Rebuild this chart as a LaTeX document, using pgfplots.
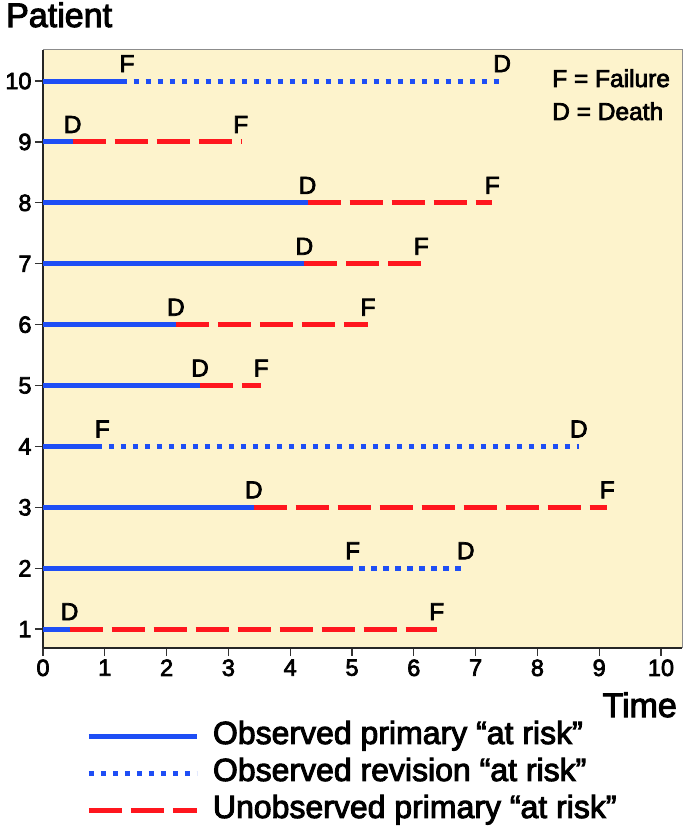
\documentclass[border=0pt]{standalone}
\usepackage{fontspec}
\setmainfont{Liberation Sans}[FakeBold=3]
\usepackage{pgfplots}
\pgfplotsset{compat=1.18}
\definecolor{bgy}{RGB}{253,243,204}
\definecolor{pblue}{RGB}{30,78,245}
\definecolor{pred}{RGB}{255,22,30}
\pgfplotsset{
  solidP/.style={pblue, line width=5bp},
  dotP/.style={pblue, line width=5bp, dash pattern=on 5.5bp off 6.5bp, dash phase=5.5bp},
  dotL/.style={pblue, line width=5bp, dash pattern=on 5.5bp off 6.5bp},
  dashP/.style={pred, line width=5bp, dash pattern=on 33bp off 9bp},
}
\begin{document}
\begin{tikzpicture}
\begin{axis}[
  scale only axis, width=639bp, height=598bp,
  xmin=0, xmax=10.34, ymin=0.69, ymax=10.51,
  axis lines=left,
  axis line style={black!85, line width=1.8bp, -},
  axis background/.style={fill=bgy},
  xtick={0,...,10}, ytick={1,...,10},
  tick align=outside, major tick length=8bp,
  tick style={black!80, line width=1.3bp},
  /pgf/number format/assume math mode=true,
  tick label style={font=\fontsize{23.5bp}{28bp}\selectfont},
  clip=false,
  legend image code/.code={\draw[#1] (0bp,0bp) -- (108bp,0bp); \path[draw=none] (0bp,0bp) -- (124bp,0bp);},
  legend cell align=left,
  legend style={at={(0.068,-0.1237)}, anchor=north west, draw=none, fill=none,
    inner sep=0pt, outer sep=0pt, row sep=8bp,
    font=\fontsize{32bp}{36bp}\selectfont,
    nodes={inner sep=0pt, text height=22bp, text depth=7bp}},
]
% Patient 10
\addplot[solidP, forget plot] coordinates {(0,10) (1.36,10)};
\addplot[dotP, forget plot] coordinates {(1.36,10) (7.43,10)};
% Patient 9
\addplot[solidP, forget plot] coordinates {(0,9) (0.48,9)};
\addplot[dashP, forget plot] coordinates {(0.48,9) (3.20,9)};
% Patient 8
\addplot[solidP, forget plot] coordinates {(0,8) (4.28,8)};
\addplot[dashP, forget plot] coordinates {(4.28,8) (7.27,8)};
% Patient 7
\addplot[solidP, forget plot] coordinates {(0,7) (4.23,7)};
\addplot[dashP, forget plot] coordinates {(4.23,7) (6.12,7)};
% Patient 6
\addplot[solidP, forget plot] coordinates {(0,6) (2.15,6)};
\addplot[dashP, forget plot] coordinates {(2.15,6) (5.26,6)};
% Patient 5
\addplot[solidP, forget plot] coordinates {(0,5) (2.54,5)};
\addplot[dashP, forget plot] coordinates {(2.54,5) (3.53,5)};
% Patient 4
\addplot[solidP, forget plot] coordinates {(0,4) (0.96,4)};
\addplot[dotP, forget plot] coordinates {(0.96,4) (8.67,4)};
% Patient 3
\addplot[solidP, forget plot] coordinates {(0,3) (3.41,3)};
\addplot[dashP, forget plot] coordinates {(3.41,3) (9.13,3)};
% Patient 2
\addplot[solidP, forget plot] coordinates {(0,2) (5.01,2)};
\addplot[dotP, forget plot] coordinates {(5.01,2) (6.84,2)};
% Patient 1
\addplot[solidP, forget plot] coordinates {(0,1) (0.43,1)};
\addplot[dashP, forget plot] coordinates {(0.43,1) (6.37,1)};
% event labels
\addplot[only marks, mark=none, forget plot, nodes near coords, point meta=explicit symbolic,
  every node near coord/.append style={anchor=base, yshift=9bp, inner sep=0pt, text=black,
    font=\fontsize{24.5bp}{28bp}\selectfont}]
  table[meta=lab] {
x y lab
1.36 10 F
7.43 10 D
0.48 9 D
3.20 9 F
4.28 8 D
7.27 8 F
4.23 7 D
6.12 7 F
2.15 6 D
5.26 6 F
2.54 5 D
3.53 5 F
0.96 4 F
8.67 4 D
3.41 3 D
9.13 3 F
5.01 2 F
6.84 2 D
0.43 1 D
6.37 1 F
};
\addlegendimage{solidP}
\addlegendentry{Observed primary “at risk”}
\addlegendimage{dotL}
\addlegendentry{Observed revision “at risk”}
\addlegendimage{dashP}
\addlegendentry{Unobserved primary “at risk”}
\draw[black!45, line width=1bp] (rel axis cs:0,1) -- (rel axis cs:1,1) -- (rel axis cs:1,0);
\node[anchor=base west, inner sep=0pt, font=\fontsize{34bp}{40bp}\selectfont] at ([xshift=-37bp,yshift=23bp]rel axis cs:0,1) {Patient};
\node[anchor=base east, inner sep=0pt, font=\fontsize{34bp}{40bp}\selectfont] at ([xshift=-5bp,yshift=-69bp]rel axis cs:1,0) {Time};
\node[anchor=base west, inner sep=0pt, font=\fontsize{24.5bp}{28bp}\selectfont] at ([xshift=509bp,yshift=-37bp]rel axis cs:0,1) {F = Failure};
\node[anchor=base west, inner sep=0pt, font=\fontsize{24.5bp}{28bp}\selectfont] at ([xshift=509bp,yshift=-70bp]rel axis cs:0,1) {D = Death};
\coordinate (SW) at (rel axis cs:0,0);
\coordinate (NE) at (rel axis cs:1,1);
\end{axis}
\pgfresetboundingbox
\path[use as bounding box] ([xshift=-43bp,yshift=-180bp]SW) rectangle ([xshift=4bp,yshift=50bp]NE);
\end{tikzpicture}
\end{document}
